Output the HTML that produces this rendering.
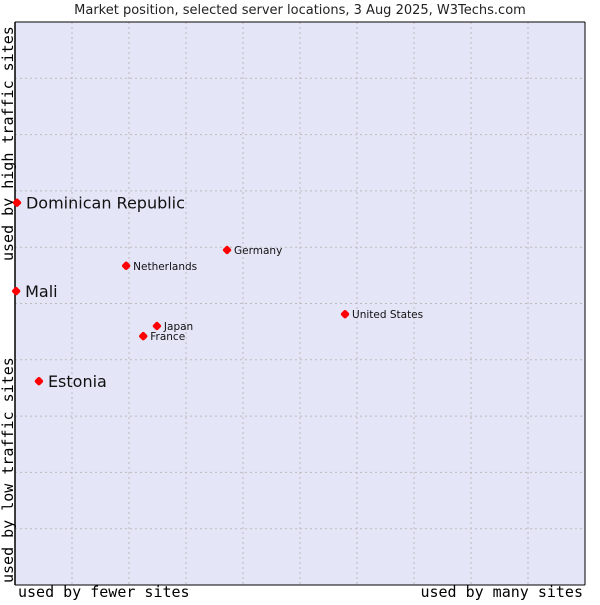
<!DOCTYPE html>
<html><head><meta charset="utf-8"><style>
body{margin:0;background:#fff;}
svg text{font-family:"DejaVu Sans","Liberation Sans",sans-serif;}
.mono{font-family:"DejaVu Sans Mono","Liberation Mono",monospace !important;font-size:15px;}
</style></head><body>
<svg id="chart" width="600" height="600" viewBox="0 0 600 600">
<text x="300" y="14" text-anchor="middle" font-size="13" fill="#222">Market position, selected server locations, 3 Aug 2025, W3Techs.com</text>
<rect x="15" y="22" width="570" height="563" fill="#e4e6f8" stroke="none"/>
<g id="grid"></g>
<line x1="15" y1="22" x2="15" y2="585" stroke="#000" stroke-width="1.5"/>
<line x1="15" y1="22" x2="585" y2="22" stroke="#000" stroke-width="1"/>
<line x1="585" y1="22" x2="585" y2="585" stroke="#000" stroke-width="1"/>
<line x1="15" y1="585" x2="585" y2="585" stroke="#000" stroke-width="1"/>
<text class="mono" x="18" y="597" fill="#000">used by fewer sites</text>
<text class="mono" x="583" y="597" text-anchor="end" fill="#000">used by many sites</text>
<text class="mono" transform="translate(13,583) rotate(-90)" fill="#000">used by low traffic sites</text>
<text class="mono" transform="translate(13,261) rotate(-90)" fill="#000">used by high traffic sites</text>
<g id="points"></g>
</svg>
<script>
const countries = ["Dominican Republic","Mali","Estonia","Netherlands","Germany","United States","Japan","France"];
const xValues = [0.35,0.2,4.2,19.5,37.2,57.9,24.9,22.5];
const yValues = [67.9,52.2,36.2,56.7,59.5,48.1,46.0,44.2];
const largeLabel = [true,true,true,false,false,false,false,false];
const gridTicks = [10,20,30,40,50,60,70,80,90];

const NS="http://www.w3.org/2000/svg";
const X0=15,X1=585,Y0=585,Y1=22;
function sx(v){return X0+(X1-X0)*v/100;}
function sy(v){return Y0-(Y0-Y1)*v/100;}
const grid=document.getElementById('grid');
gridTicks.forEach(t=>{
  const v=document.createElementNS(NS,'line');
  v.setAttribute('x1',sx(t));v.setAttribute('x2',sx(t));v.setAttribute('y1',Y1);v.setAttribute('y2',Y0);
  v.setAttribute('stroke','#bbbbbb');v.setAttribute('stroke-dasharray','2,3');
  
  
  grid.appendChild(v);
  const h=document.createElementNS(NS,'line');
  h.setAttribute('y1',sy(t));h.setAttribute('y2',sy(t));h.setAttribute('x1',X0);h.setAttribute('x2',X1);
  h.setAttribute('stroke','#bbbbbb');h.setAttribute('stroke-dasharray','2,3');
  
  
  grid.appendChild(h);
});
const pts=document.getElementById('points');
countries.forEach((c,i)=>{
  const x=sx(xValues[i]),y=sy(yValues[i]);
  const m=document.createElementNS(NS,'rect');
  m.setAttribute('x',x-3.5);m.setAttribute('y',y-3.5);m.setAttribute('width',7);m.setAttribute('height',7);
  m.setAttribute('rx',2);m.setAttribute('fill','#f00');
  m.setAttribute('transform','rotate(45 '+x+' '+y+')');
  
  
  pts.appendChild(m);
  const t=document.createElementNS(NS,'text');
  const big=largeLabel[i];
  t.setAttribute('x',x+(big?9:7));t.setAttribute('y',y+(big?6:4));
  t.setAttribute('font-size',big?16:10.5);t.setAttribute('fill','#111');
  t.textContent=c;
  
  
  pts.appendChild(t);
});
</script>
</body></html>
